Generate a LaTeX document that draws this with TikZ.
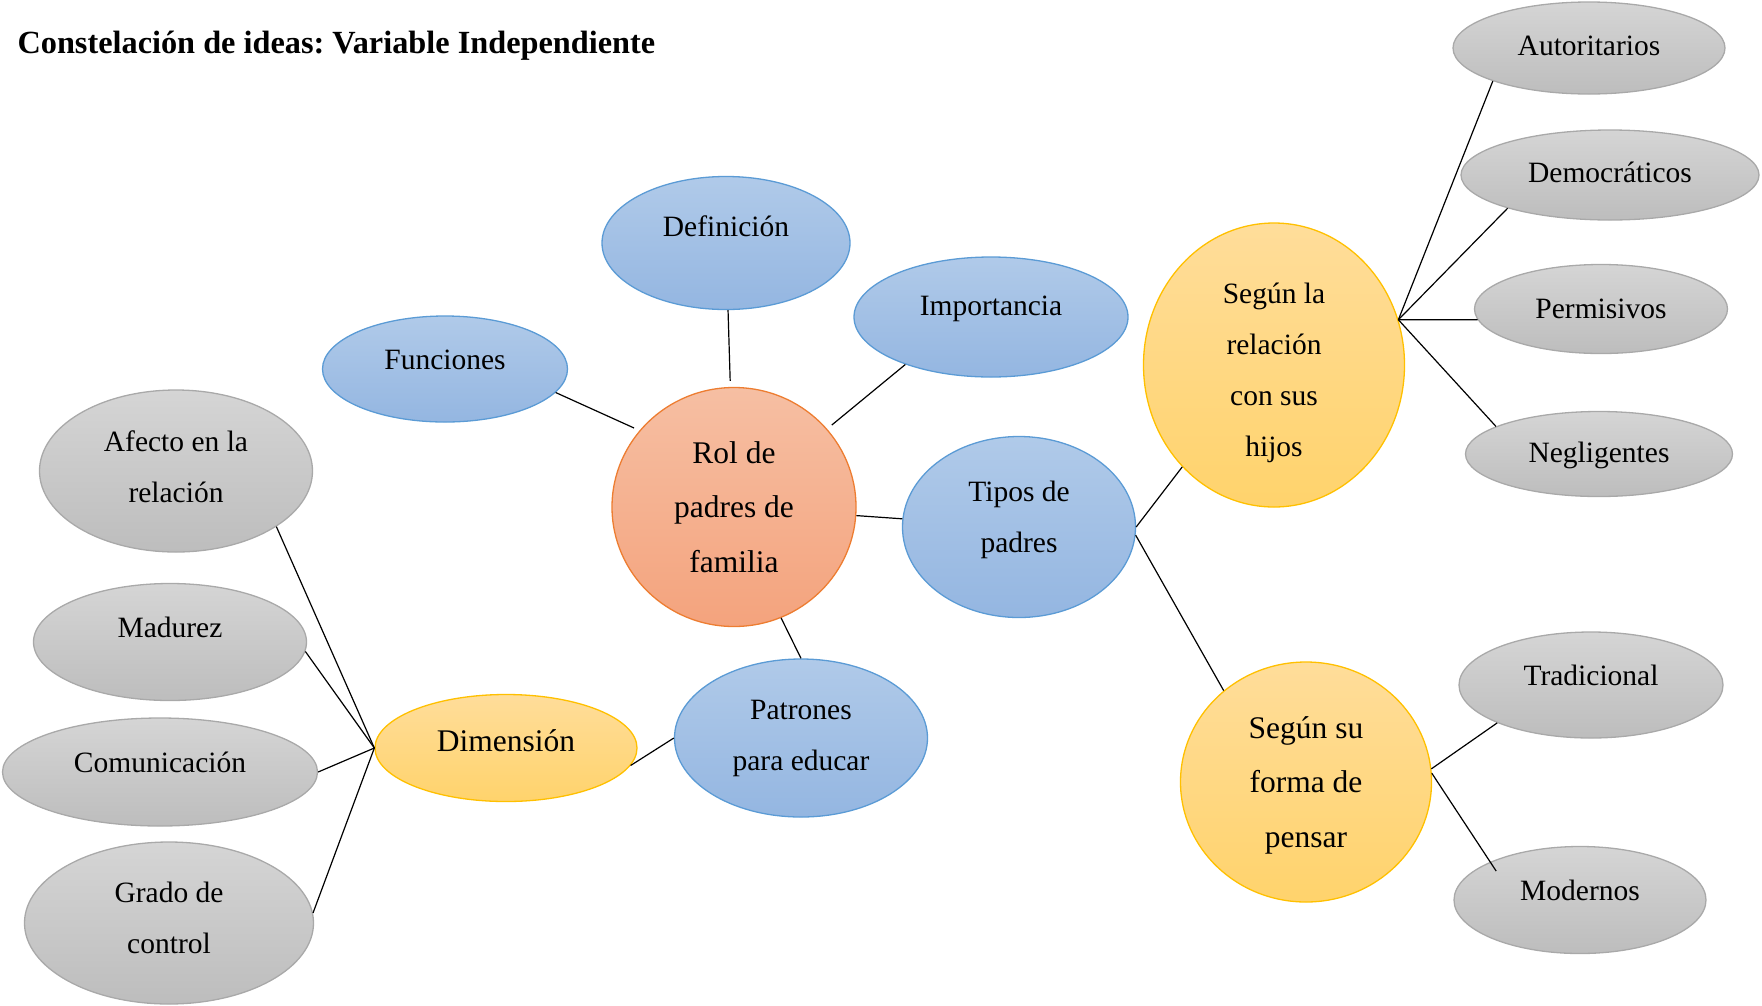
\documentclass[tikz,border=0pt]{standalone}
\usepackage{fontspec}
\setmainfont{Liberation Serif}
\usetikzlibrary{shapes.geometric}
\frenchspacing

\definecolor{azulborde}{HTML}{5B9BD5}
\definecolor{azularriba}{HTML}{B0CAE9}
\definecolor{azulabajo}{HTML}{94B6E1}
\definecolor{naranjaborde}{HTML}{ED7D31}
\definecolor{naranjaarriba}{HTML}{F6BFA3}
\definecolor{naranjaabajo}{HTML}{F4A37D}
\definecolor{amarilloborde}{HTML}{FFC000}
\definecolor{amarilloarriba}{HTML}{FFDD9A}
\definecolor{amarilloabajo}{HTML}{FFD36C}
\definecolor{grisborde}{HTML}{A9A9A9}
\definecolor{grisarriba}{HTML}{D5D5D5}
\definecolor{grisabajo}{HTML}{BDBDBD}

\newcommand{\fondo}[1]{\rule[-#1pt]{0pt}{0pt}}
\newcommand{\techo}[1]{\rule{0pt}{#1pt}}

\tikzset{
    idea/.style={ellipse, inner sep=0pt, align=center, line width=1.3pt,
        font=\fontsize{29.5}{51}\selectfont},
    grande/.style={font=\fontsize{31.5}{54.5}\selectfont},
    tam/.style 2 args={minimum width=#1pt, minimum height=#2pt},
    azul/.style={idea, draw=azulborde, top color=azularriba, bottom color=azulabajo},
    naranja/.style={idea, draw=naranjaborde, top color=naranjaarriba, bottom color=naranjaabajo},
    amarillo/.style={idea, draw=amarilloborde, top color=amarilloarriba, bottom color=amarilloabajo},
    gris/.style={idea, draw=grisborde, top color=grisarriba, bottom color=grisabajo},
    enlace/.style={line width=1.2pt, black}
}

\begin{document}
\begin{tikzpicture}[x=1pt, y=-1pt]
                \useasboundingbox (0,0) rectangle (1762,1005);
                \node[anchor=base west, font=\fontsize{32.3}{36}\selectfont\bfseries] (Titulo) at (14,53) {Constelación de ideas: Variable Independiente};

                \node[naranja, grande, tam={244}{239}] (Rol) at (734,507) {Rol de\\padres de\\familia};
                \node[azul, tam={248}{133}] (Def) at (726,243) {Definición\fondo{34}};
                \node[azul, tam={274}{120}] (Imp) at (991,317) {Importancia\fondo{22}};
                \node[azul, tam={245}{106}] (Fun) at (445,369) {Funciones\fondo{18}};
                \node[azul, tam={233}{181}] (Tip) at (1019,527) {Tipos de\\padres\fondo{20}};
                \node[azul, tam={253}{158}] (Pat) at (801,738) {Patrones\\para educar};
                \node[amarillo, grande, tam={262}{107}] (Dim) at (506,748) {Dimensión\fondo{14}};
                \node[amarillo, tam={261}{284}] (Rel) at (1274,365) {\techo{36}Según la\\relación\\con sus\\hijos};
                \node[amarillo, grande, tam={251}{240}] (For) at (1306,782) {\techo{28}Según su\\forma de\\pensar};

                \node[gris, tam={272}{92}] (Aut) at (1589,48) {Autoritarios\fondo{4}};
                \node[gris, tam={298}{90}] (Dem) at (1610,175) {Democráticos\fondo{6}};
                \node[gris, tam={253}{89}] (Per) at (1601,309) {Permisivos};
                \node[gris, tam={267}{85}] (Neg) at (1599,454) {\techo{24}Negligentes};
                \node[gris, tam={264}{106}] (Tra) at (1591,685) {Tradicional\fondo{20}};
                \node[gris, tam={252}{107}] (Mod) at (1580,900) {Modernos\fondo{20}};

                \node[gris, tam={273}{162}] (Afe) at (176,471) {Afecto en la\\relación\fondo{9}};
                \node[gris, tam={273}{117}] (Mad) at (170,642) {Madurez\fondo{30}};
                \node[gris, tam={315}{108}] (Com) at (160,772) {Comunicación\fondo{20}};
                \node[gris, tam={289}{162}] (Gra) at (169,923) {Grado de\\control\fondo{11}};

                \draw[enlace, shorten >=6pt] (Def) -- (Rol);
                \draw[enlace, shorten >=6pt] (Imp.-151) -- (Rol.40);
                \draw[enlace, shorten >=6pt] (Fun.-12) -- (Rol.141);
                \draw[enlace] (Rol) -- (Tip);
                \draw[enlace] (Rol.-67) -- (Pat.north);
                \draw[enlace] (Pat.west) -- (Dim.-8);

                \draw[enlace] (Dim.west) -- (Afe.-29);
                \draw[enlace] (Dim.west) -- (Mad.-4);
                \draw[enlace] (Dim.west) -- (Com.east);
                \draw[enlace] (Dim.west) -- (Gra.4);

                \draw[enlace] (Tip.east) -- (Rel.-132);
                \draw[enlace] (Tip.-4) -- (For.132);

                \draw[enlace] (Rel.20) -- (Aut.-161);
                \draw[enlace] (Rel.20) -- (Dem.-162);
                \draw[enlace] (Rel.20) -- (Per.-175);
                \draw[enlace] (Rel.20) -- (Neg.165);

                \draw[enlace] (For.6) -- (Tra.-158);
                \draw[enlace, shorten >=-11pt] (For.4) -- (Mod.157);
\end{tikzpicture}
\end{document}
